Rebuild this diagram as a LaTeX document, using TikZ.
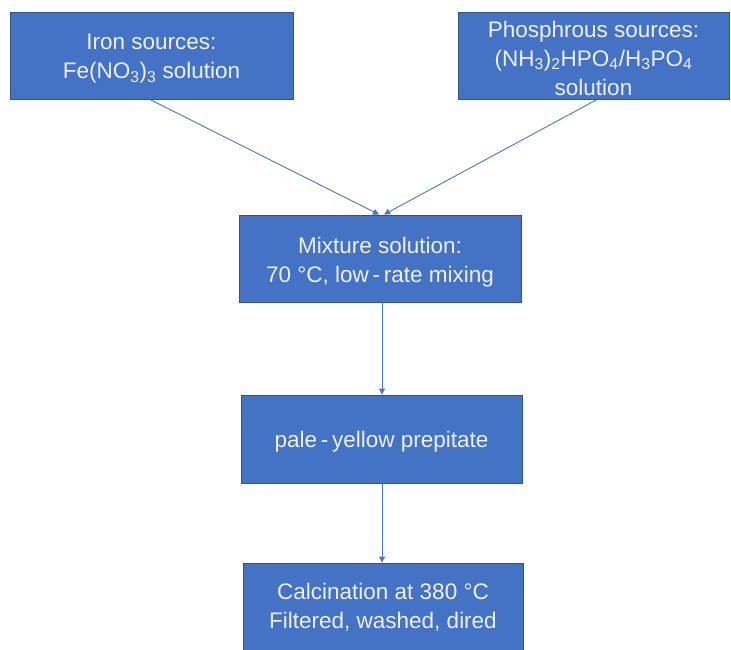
\documentclass[tikz,border=0pt]{standalone}
\usepackage{fontspec}
\setmainfont{Liberation Sans}
\usetikzlibrary{arrows.meta}
\definecolor{boxfill}{HTML}{4472C4}
\definecolor{boxline}{HTML}{2F528F}
\definecolor{arrowc}{HTML}{4A76C6}
\definecolor{txt}{HTML}{EEF1F8}
\tikzset{
  boxtext/.style={text=txt, align=center, inner sep=1pt, font=\fontsize{22.5}{29}\selectfont},
  stepbox/.style={draw=boxline, line width=0.8pt, fill=boxfill},
  flow/.style={draw=arrowc, line width=0.9pt, -{Triangle[length=6pt,width=6pt]}}
}
\newcommand{\sbs}[1]{\textsubscript{#1}}
\newcommand{\hy}{\,-\,}
\begin{document}
\begin{tikzpicture}[x=1pt,y=-1pt]
\useasboundingbox (0,0) rectangle (731,649);
\fill[white] (0,0) rectangle (731,649);
\node[stepbox, minimum width=283pt, minimum height=87pt] (iron) at (151.5,55.5) {};
\node[boxtext] (irontext) at (151.5,59) {Iron sources:\\Fe(NO\sbs{3})\sbs{3} solution};
\node[stepbox, minimum width=271pt, minimum height=87pt] (phos) at (593.5,55.5) {};
\node[boxtext] (phostext) at (593.5,58) {Phosphrous sources:\\(NH\sbs{3})\sbs{2}HPO\sbs{4}/H\sbs{3}PO\sbs{4}\\solution};
\node[stepbox, minimum width=282pt, minimum height=87pt] (mix) at (380,258.5) {};
\node[boxtext] (mixtext) at (380,262) {Mixture solution:\\70 °C, low\hy rate mixing};
\node[stepbox, minimum width=281pt, minimum height=88pt] (pale) at (381.5,439) {};
\node[boxtext] (paletext) at (381.5,442) {pale\hy yellow prepitate};
\node[stepbox, minimum width=280pt, minimum height=100pt] (calc) at (383,613) {};
\node[boxtext] (calctext) at (383,607) {Calcination at 380 °C\\Filtered, washed, dired};
\draw[flow] (150,99.5) -- (379,214.5);
\draw[flow] (597,99.5) -- (384,214.5);
\draw[flow] (mix.south -| 382,0) -- (pale.north -| 382,0);
\draw[flow] (pale.south -| 382,0) -- (calc.north -| 382,0);
\end{tikzpicture}
\end{document}
